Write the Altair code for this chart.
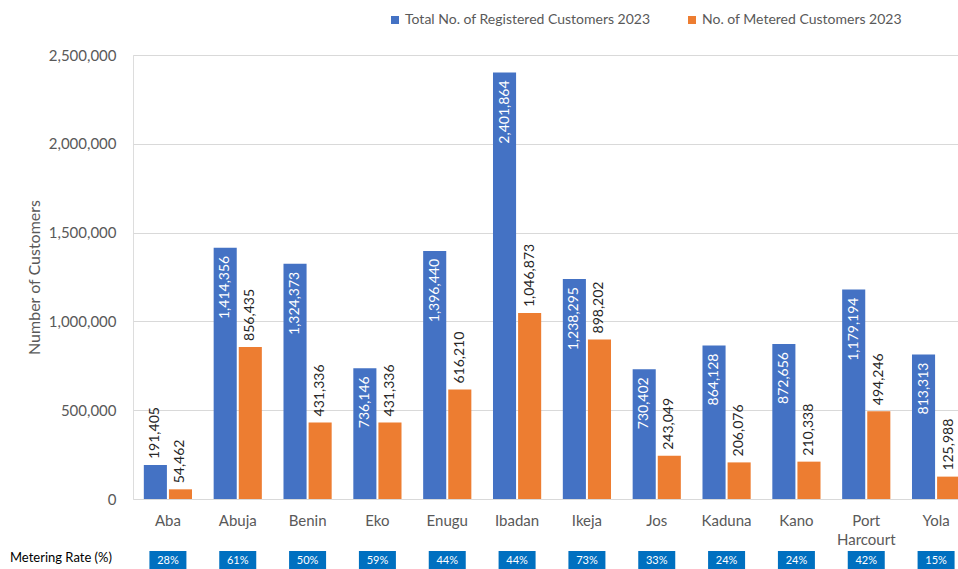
import altair as alt
import pandas as pd

regions = ["Aba", "Abuja", "Benin", "Eko", "Enugu", "Ibadan", "Ikeja", "Jos",
           "Kaduna", "Kano", "Port Harcourt", "Yola"]
total = [191405, 1414356, 1324373, 736146, 1396440, 2401864, 1238295, 730402,
         864128, 872656, 1179194, 813313]
metered = [54462, 856435, 431336, 431336, 616210, 1046873, 898202, 243049,
           206076, 210338, 494246, 125988]
rates = ["28%", "61%", "50%", "59%", "44%", "44%", "73%", "33%", "24%", "24%", "42%", "15%"]
series = ["Total No. of Registered Customers 2023", "No. of Metered Customers 2023"]
colors = ["#4472C4", "#ED7D31"]
y_ticks = [0, 500000, 1000000, 1500000, 2000000, 2500000]

rows = []
for i, r in enumerate(regions):
    rows.append({"region": r, "series": series[0], "value": total[i],
                 "inside": total[i] > 400000})
    rows.append({"region": r, "series": series[1], "value": metered[i],
                 "inside": False})
df = pd.DataFrame(rows)
rate_df = pd.DataFrame({"region": regions, "rate": rates})

FONT = "Lato"
GRAY = "#595959"

x = alt.X("region:N", sort=regions,
          scale=alt.Scale(range=[0, 838], paddingInner=0.31, paddingOuter=0.155),
          axis=alt.Axis(title=None, labelAngle=0, domain=False, ticks=False,
                        labelFontSize=15, labelColor=GRAY, labelFont=FONT,
                        labelPadding=14, labelLineHeight=19,
                        labelExpr="datum.label == 'Port Harcourt' ? ['Port', 'Harcourt'] : datum.label"))
y = alt.Y("value:Q",
          scale=alt.Scale(domain=[0, 2500000], nice=False),
          axis=alt.Axis(title="Number of Customers", values=y_ticks,
                        labelExpr="format(datum.value, ',')",
                        domain=False, ticks=False, labelPadding=17,
                        labelFontSize=15, labelColor=GRAY, labelFont=FONT,
                        titleFontSize=16, titleFont=FONT, titleColor=GRAY,
                        titleFontWeight="normal", titlePadding=6,
                        gridColor="#D9D9D9", gridWidth=1))

xoff = alt.XOffset("series:N", sort=series, scale=alt.Scale(paddingInner=0.08))

bars = alt.Chart(df).mark_bar().encode(
    x=x, y=y, xOffset=xoff,
    color=alt.Color("series:N", sort=series,
                    scale=alt.Scale(domain=series, range=colors),
                    legend=alt.Legend(title=None, orient="none", direction="horizontal",
                                      legendX=255, legendY=-42, symbolType="square",
                                      symbolSize=64, symbolStrokeWidth=0,
                                      labelFontSize=14, labelColor=GRAY, labelFont=FONT,
                                      labelLimit=400, labelOffset=3, columnPadding=34,
                                      padding=0)),
)

lab_in = alt.Chart(df).transform_filter("datum.inside").mark_text(
    angle=270, align="right", baseline="middle", dx=-8, fontSize=14, font=FONT,
    color="white").encode(
    x=x, y=y, xOffset=xoff,
    text=alt.Text("value:Q", format=","),
)

lab_out = alt.Chart(df).transform_filter("!datum.inside").mark_text(
    angle=270, align="left", baseline="middle", dx=6, fontSize=14, font=FONT,
    color="#262626").encode(
    x=x, y=y, xOffset=xoff,
    text=alt.Text("value:Q", format=","),
)

boxes = alt.Chart(rate_df).mark_bar(width=37, color="#0070C0").encode(
    x=alt.X("region:N", sort=regions),
    y=alt.value(496), y2=alt.value(515),
)
box_text = alt.Chart(rate_df).mark_text(fontSize=11, font=FONT, color="white",
                                        baseline="middle").encode(
    x=alt.X("region:N", sort=regions),
    y=alt.value(506),
    text="rate:N",
)
rate_title = alt.Chart(pd.DataFrame({"t": ["Metering Rate (%)"]})).mark_text(
    fontSize=13, font=FONT, color="black", align="left", baseline="middle").encode(
    x=alt.value(-123), y=alt.value(503), text="t:N")

chart = alt.layer(bars, lab_in, lab_out, boxes, box_text, rate_title).properties(
    width=825, height=444,
    autosize=alt.AutoSizeParams(type="none"),
    padding={"left": 133, "top": 55, "right": 0, "bottom": 70},
).configure_view(stroke=None).configure(font=FONT)

chart.save("out.html", embed_options={"renderer": "svg", "actions": False})
